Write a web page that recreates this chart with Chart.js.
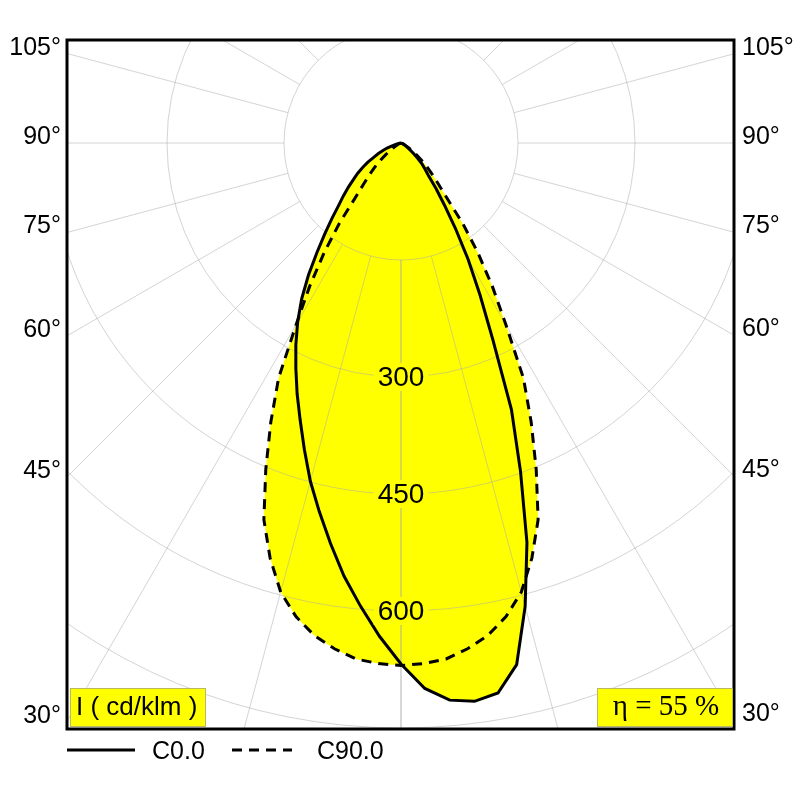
<!DOCTYPE html>
<html>
<head>
<meta charset="utf-8">
<script src="https://cdn.jsdelivr.net/npm/chart.js@4.4.1/dist/chart.umd.min.js"></script>
<style>
  html, body { margin: 0; padding: 0; background: #fff; }
  #wrap { width: 800px; height: 800px; position: relative; }
</style>
</head>
<body>
<div id="wrap"><canvas id="polar"></canvas></div>
<script>
// gamma angle from nadir (deg), negative = left half of the plane
const gammaAngles = [
  -90, -87.5, -85, -82.5, -80, -77.5, -75, -72.5, -70, -67.5,
  -65, -62.5, -60, -57.5, -55, -52.5, -50, -47.5, -45, -42.5,
  -40, -37.5, -35, -32.5, -30, -27.5, -25, -22.5, -20, -17.5,
  -15, -12.5, -10, -7.5, -5, -2.5, 0, 2.5, 5, 7.5,
  10, 12.5, 15, 17.5, 20, 22.5, 25, 27.5, 30, 32.5,
  35, 37.5, 40, 42.5, 45, 47.5, 50, 52.5, 55, 57.5,
  60, 62.5, 65, 67.5, 70, 72.5, 75, 77.5, 80, 82.5,
  85, 87.5, 90
];
// cd/klm
const c0Values = [
  0, 0, 0, 0, 1, 3, 7, 12, 19, 25,
  32, 39, 49, 58, 68, 77, 88, 100, 113, 131,
  152, 177, 207, 237, 265, 292, 319, 348, 378, 412,
  449, 484, 521, 560, 596, 633, 668, 700, 717, 722,
  716, 685, 615, 537, 448, 370, 279, 219, 172, 130,
  97, 74, 55, 46, 38, 29, 21, 15, 10, 7,
  5, 3, 2, 1, 1, 0, 0, 0, 0, 0,
  0, 0, 0
];
const c90Values = [
  0, 0, 0, 0, 0, 0, 1, 1, 2, 3,
  4, 6, 8, 12, 18, 25, 34, 45, 56, 70,
  90, 130, 172, 218, 269, 340, 395, 453, 514, 558,
  596, 622, 641, 654, 664, 668, 670, 668, 664, 654,
  641, 622, 596, 558, 514, 453, 395, 340, 269, 218,
  172, 130, 90, 70, 56, 45, 34, 25, 18, 12,
  8, 6, 4, 3, 2, 1, 1, 0, 0, 0,
  0, 0, 0
];
const seriesNames = ["C0.0", "C90.0"];
const ringValues = [150, 300, 450, 600, 750];
const ringTicks = [300, 450, 600];
const spokeAngles = [0, 15, 30, 45, 60, 75, 90, 105, 120, 135, 150, 165, 180];
const sideTicks = [30, 45, 60, 75, 90, 105];
const unitText = "I ( cd/klm )";
const etaText = "η = 55 %";

const SANS = '"Liberation Sans", Arial, sans-serif';
const SERIF = '"Liberation Serif", "Times New Roman", serif';
const YELLOW = "#ffff00";

// axis window in cd/klm so that the pole sits at (401,143) and 150 cd/klm = 117 px
const PX = 0.78;
const AREA = { left: 67, right: 734, top: 40, bottom: 729 };
const POLE = { x: 401, y: 143 };

function toXY(values) {
  return gammaAngles.map((g, i) => {
    const a = g * Math.PI / 180;
    return { x: values[i] * Math.sin(a), y: -values[i] * Math.cos(a) };
  });
}

const polarGrid = {
  id: "polarGrid",
  beforeDatasetsDraw(chart) {
    const { ctx, chartArea: ca, scales: { x, y } } = chart;
    const cx = x.getPixelForValue(0), cy = y.getPixelForValue(0);
    const rad = (v) => x.getPixelForValue(v) - cx;

    ctx.save();
    ctx.beginPath();
    ctx.rect(ca.left, ca.top, ca.right - ca.left, ca.bottom - ca.top);
    ctx.clip();

    // yellow fill under both curves
    chart.data.datasets.forEach((ds, i) => {
      const pts = chart.getDatasetMeta(i).data;
      ctx.beginPath();
      pts.forEach((p, j) => (j ? ctx.lineTo(p.x, p.y) : ctx.moveTo(p.x, p.y)));
      ctx.closePath();
      ctx.fillStyle = YELLOW;
      ctx.fill();
    });

    ctx.strokeStyle = "rgba(170,170,170,0.5)";
    ctx.lineWidth = 1;
    ringValues.forEach((r) => {
      ctx.beginPath();
      ctx.arc(cx, cy, rad(r), 0, Math.PI * 2);
      ctx.stroke();
    });
    const r0 = rad(ringValues[0]), r1 = rad(2000);
    spokeAngles.forEach((g) => {
      [1, -1].forEach((side) => {
        const a = g * Math.PI / 180;
        const sx = side * Math.sin(a), sy = Math.cos(a);
        ctx.beginPath();
        ctx.moveTo(cx + r0 * sx, cy + r0 * sy);
        ctx.lineTo(cx + r1 * sx, cy + r1 * sy);
        ctx.stroke();
      });
    });
    ctx.restore();
  },
  afterDatasetsDraw(chart) {
    const { ctx, chartArea: ca, scales: { x, y } } = chart;
    const cx = x.getPixelForValue(0), cy = y.getPixelForValue(0);
    const rad = (v) => x.getPixelForValue(v) - cx;
    ctx.save();

    // ring value labels on the nadir line
    ctx.font = "28px " + SANS;
    ctx.textAlign = "center";
    ctx.textBaseline = "middle";
    ringTicks.forEach((v) => {
      const ty = cy + rad(v);
      const w = ctx.measureText(String(v)).width;
      ctx.fillStyle = YELLOW;
      ctx.fillRect(cx - w / 2 - 4, ty - 14, w + 8, 28);
      ctx.fillStyle = "#000";
      ctx.fillText(String(v), cx, ty + 1);
    });

    // frame
    ctx.strokeStyle = "#000";
    ctx.lineWidth = 3;
    ctx.strokeRect(ca.left, ca.top, ca.right - ca.left, ca.bottom - ca.top);

    // angle labels where the spokes leave the frame
    ctx.font = "25px " + SANS;
    ctx.textBaseline = "alphabetic";
    ctx.fillStyle = "#000";
    sideTicks.forEach((g) => {
      const a = g * Math.PI / 180;
      const yl = cy + (cx - ca.left) / Math.sin(a) * Math.cos(a);
      const yr = cy + (ca.right - cx) / Math.sin(a) * Math.cos(a);
      ctx.textAlign = "right";
      ctx.fillText(g + "°", ca.left - 6, yl + 1);
      ctx.textAlign = "left";
      ctx.fillText(g + "°", ca.right + 8, yr + 1);
    });

    // corner boxes
    const by = ca.bottom - 41, bh = 38;
    ctx.lineWidth = 1;
    ctx.strokeStyle = "#b8b860";
    ctx.fillStyle = YELLOW;
    ctx.fillRect(ca.left + 3, by, 135, bh);
    ctx.strokeRect(ca.left + 3.5, by + 0.5, 135, bh);
    ctx.fillRect(ca.right - 137, by, 135, bh);
    ctx.strokeRect(ca.right - 136.5, by + 0.5, 135, bh);
    ctx.fillStyle = "#000";
    ctx.textBaseline = "middle";
    ctx.textAlign = "left";
    ctx.font = "26px " + SANS;
    ctx.fillText(unitText, ca.left + 9, by + bh / 2 + 1);
    ctx.textAlign = "center";
    ctx.font = "29px " + SERIF;
    ctx.fillText(etaText, ca.right - 68, by + bh / 2);

    // legend under the frame
    const ly = 750;
    const sampleW = [68, 60];
    let lx = ca.left;
    chart.data.datasets.forEach((ds, i) => {
      ctx.strokeStyle = "#000";
      ctx.lineWidth = 3;
      ctx.setLineDash(ds.borderDash || []);
      ctx.beginPath();
      ctx.moveTo(lx, ly);
      ctx.lineTo(lx + sampleW[i], ly);
      ctx.stroke();
      ctx.setLineDash([]);
      ctx.textAlign = "left";
      ctx.font = "25px " + SANS;
      ctx.fillText(ds.label, lx + sampleW[i] + 17 + i * 8, ly + 2);
      lx += 165;
    });
    ctx.restore();
  }
};

new Chart(document.getElementById("polar"), {
  type: "scatter",
  data: {
    datasets: [
      {
        label: seriesNames[0],
        data: toXY(c0Values),
        showLine: true,
        borderColor: "#000",
        borderWidth: 3,
        pointRadius: 0,
        tension: 0,
        fill: false
      },
      {
        label: seriesNames[1],
        data: toXY(c90Values),
        showLine: true,
        borderColor: "#000",
        borderWidth: 3,
        borderDash: [10, 7],
        pointRadius: 0,
        tension: 0,
        fill: false
      }
    ]
  },
  options: {
    responsive: true,
    maintainAspectRatio: false,
    animation: false,
    layout: {
      padding: { left: AREA.left, right: 800 - AREA.right, top: AREA.top, bottom: 800 - AREA.bottom }
    },
    scales: {
      x: {
        type: "linear",
        display: false,
        min: -(POLE.x - AREA.left) / PX,
        max: (AREA.right - POLE.x) / PX
      },
      y: {
        type: "linear",
        display: false,
        min: -(AREA.bottom - POLE.y) / PX,
        max: (POLE.y - AREA.top) / PX
      }
    },
    plugins: {
      legend: { display: false },
      tooltip: { enabled: false }
    }
  },
  plugins: [polarGrid]
});
</script>
</body>
</html>
